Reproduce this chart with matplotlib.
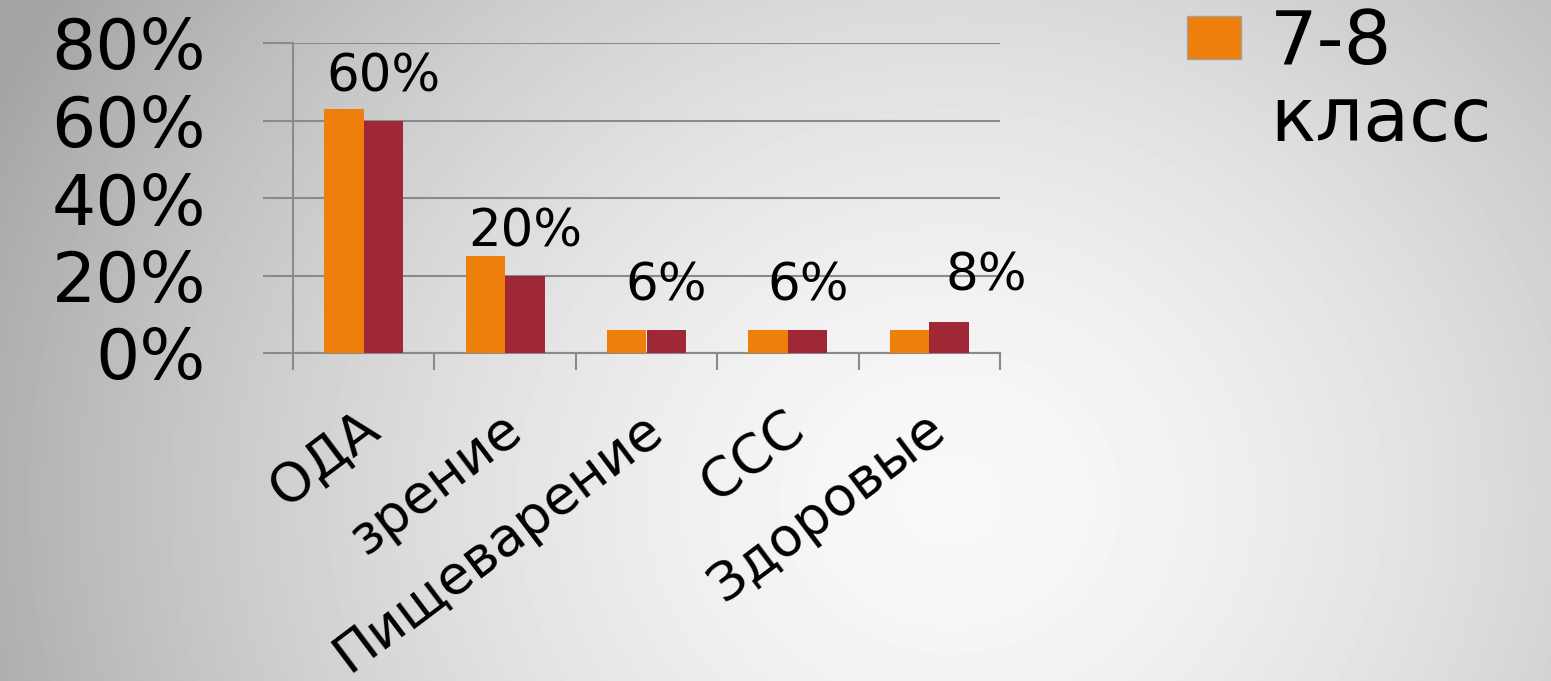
import numpy as np
import matplotlib
matplotlib.use("Agg")
import matplotlib.pyplot as plt
from matplotlib.patches import Patch
from matplotlib.transforms import ScaledTranslation

plt.rcParams['font.family'] = ['DejaVu Sans']

categories = ["ОДА", "зрение", "Пищеварение", "ССС", "Здоровые"]
grade_78 = [63, 25, 6, 6, 6]     # orange, "7-8 класс"
grade_other = [60, 20, 6, 6, 8]  # dark red, labelled
label_texts = ["60%", "20%", "6%", "6%", "8%"]

orange = "#EF7F0B"
darkred = "#9E2836"
gridc = "#8a8a8a"

fig = plt.figure(figsize=(15.51, 6.81), dpi=100)

# radial grey background
bg = fig.add_axes([0, 0, 1, 1], zorder=-10)
yy, xx = np.mgrid[0:681, 0:1551]
r = np.sqrt(((xx - 950) / 1.0) ** 2 + ((yy - 500) / 0.9) ** 2)
shade = 0.975 - 0.33 * np.clip(r / 1050.0, 0, 1) ** 1.6
bg.imshow(shade, cmap="gray", vmin=0, vmax=1, aspect="auto", extent=[0, 1551, 681, 0])
bg.axis("off")

ax = fig.add_axes([293 / 1551, 1 - 353 / 681, (1000 - 293) / 1551, (353 - 43) / 681])
ax.patch.set_alpha(0)

x = np.arange(len(categories))
w = 0.28
ax.bar(x - w / 2, grade_78, w, color=orange, zorder=3)
bars = ax.bar(x + w / 2, grade_other, w, color=darkred, zorder=3)

nudges = [(0, 0), (0, 0), (0, 0), (0, 0), (27, 2)]
for b, t, (dx, dy) in zip(bars, label_texts, nudges):
    ax.annotate(t, (b.get_x() + b.get_width() / 2, b.get_height()),
                xytext=(dx, 21 + dy), textcoords="offset points",
                ha="center", va="baseline", fontsize=37)

ax.set_ylim(0, 80)
ax.set_xlim(-0.5, len(categories) - 0.5)
ax.set_yticks([0, 20, 40, 60, 80])
ax.set_yticklabels(["0%", "20%", "40%", "60%", "80%"], fontsize=50)
ax.yaxis.grid(True, color=gridc, linewidth=1.5, zorder=0)
ax.tick_params(axis="y", length=21.6, width=1.5, color=gridc, pad=41)

ax.set_xticks(np.arange(-0.5, len(categories)), minor=False)
ax.set_xticklabels([])
ax.set_xticks(x, minor=True)
ax.set_xticklabels(categories, minor=True, rotation=37, ha="right", va="center",
                   rotation_mode="anchor", fontsize=39)
ax.tick_params(axis="x", which="major", length=12, width=1.5, color=gridc, direction="out")
ax.tick_params(axis="x", which="minor", length=0, pad=50)
shift = ScaledTranslation(10 / 100, 0, fig.dpi_scale_trans)
for lab in ax.get_xticklabels(minor=True):
    lab.set_transform(lab.get_transform() + shift)

for s in ["top", "right"]:
    ax.spines[s].set_visible(False)
for s in ["left", "bottom"]:
    ax.spines[s].set_color(gridc)
    ax.spines[s].set_linewidth(1.5)

handles = [Patch(facecolor=orange, edgecolor="#a0a0a0"), Patch(alpha=0)]
fig.legend(handles, ["7-8", "класс"], loc="upper left", bbox_to_anchor=(1187 / 1551, 0.99),
           frameon=False, fontsize=54, handlelength=0.72, handleheight=0.5,
           handletextpad=0.39, labelspacing=0.05, borderpad=0, borderaxespad=0)

fig.savefig("out.png", dpi=100)
